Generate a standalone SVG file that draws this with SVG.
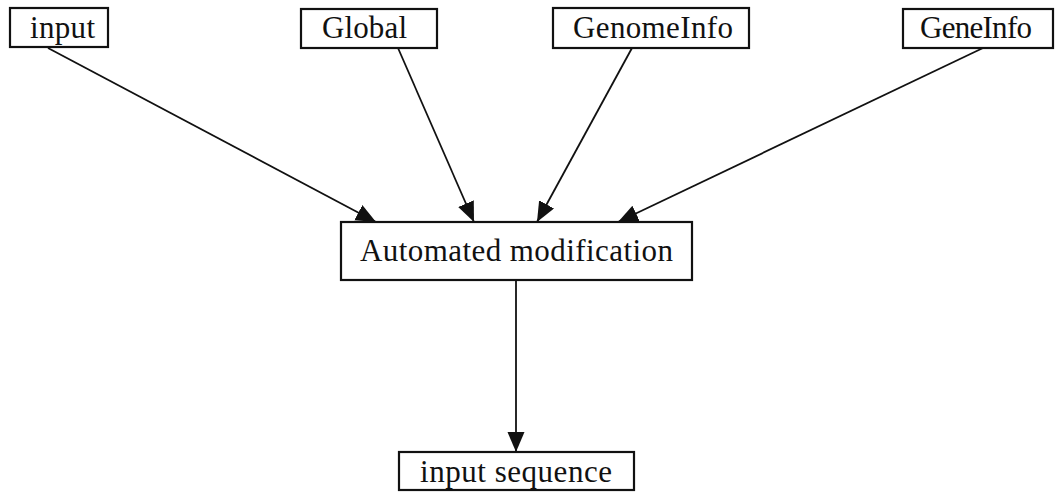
<svg xmlns="http://www.w3.org/2000/svg" width="1055" height="492" viewBox="0 0 1055 492">
<style>
.box{fill:#fff;stroke:#111;stroke-width:2.2}
.lbl{font-family:"Liberation Serif","Times New Roman",serif;font-size:31px;fill:#111}
.edge{stroke:#111;stroke-width:1.8;fill:none;marker-end:url(#ah)}
</style>
<defs>
<marker id="ah" markerUnits="userSpaceOnUse" markerWidth="22" markerHeight="18" refX="20" refY="8.5" orient="auto">
<path d="M0,0 L20,8.5 L0,17 Z" fill="#111"/>
</marker>
</defs>
<rect width="1055" height="492" fill="#fff"/>
<g id="connectors">
<line class="edge" x1="48" y1="48" x2="376" y2="222"/>
<line class="edge" x1="398" y1="48" x2="474" y2="222"/>
<line class="edge" x1="632" y1="48" x2="537" y2="222"/>
<line class="edge" x1="983" y1="48" x2="618" y2="222"/>
<line class="edge" x1="516" y1="280" x2="516" y2="452"/>
</g>
<g id="n-input"><rect class="box" x="10" y="8" width="98" height="39"/><text class="lbl" x="30" y="38" textLength="65" lengthAdjust="spacing">input</text></g>
<g id="n-global"><rect class="box" x="301" y="9" width="136" height="39"/><text class="lbl" x="322" y="38" textLength="85" lengthAdjust="spacing">Global</text></g>
<g id="n-genomeinfo"><rect class="box" x="553" y="8" width="196" height="40"/><text class="lbl" x="573" y="38" textLength="160" lengthAdjust="spacing">GenomeInfo</text></g>
<g id="n-geneinfo"><rect class="box" x="903" y="9" width="150" height="39"/><text class="lbl" x="920" y="38" textLength="112" lengthAdjust="spacing">GeneInfo</text></g>
<g id="n-auto"><rect class="box" x="341" y="222" width="351" height="58"/><text class="lbl" x="360" y="261" textLength="313" lengthAdjust="spacing">Automated modification</text></g>
<g id="n-seq"><rect class="box" x="399" y="452" width="235" height="38"/><text class="lbl" x="420" y="482" textLength="192" lengthAdjust="spacing">input sequence</text></g>
</svg>
